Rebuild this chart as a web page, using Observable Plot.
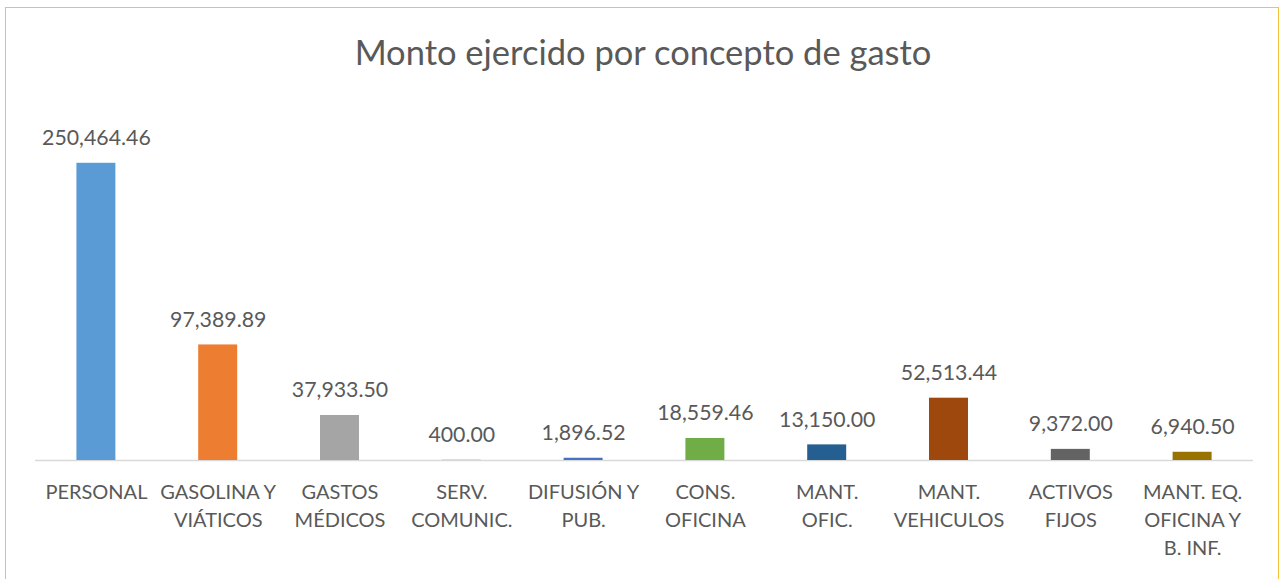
<!DOCTYPE html>
<html>
<head>
<meta charset="utf-8">
<script src="https://cdn.jsdelivr.net/npm/d3@7"></script>
<script src="https://cdn.jsdelivr.net/npm/@observablehq/plot@0.6"></script>
<style>
  html, body { margin: 0; padding: 0; background: #fff; }
  #wrap { position: relative; width: 1286px; height: 579px; overflow: hidden; font-family: Lato, "Open Sans", sans-serif; }
  #frame { position: absolute; left: 5px; top: 7px; width: 1274px; height: 600px; border: 1.5px solid #F6C33B; box-sizing: border-box; }
  #title { position: absolute; left: 0; top: 29px; width: 1286px; text-align: center; font-size: 34.5px; color: #595959; line-height: 46px; }
  #chart { position: absolute; left: 0; top: 0; }
</style>
</head>
<body>
<div id="wrap">
  <div id="frame"></div>
  <div id="chart"></div>
  <div id="title">Monto ejercido por concepto de gasto</div>
</div>
<script>
const categories = ["PERSONAL", "GASOLINA Y\nVIÁTICOS", "GASTOS\nMÉDICOS", "SERV.\nCOMUNIC.", "DIFUSIÓN Y\nPUB.", "CONS.\nOFICINA", "MANT.\nOFIC.", "MANT.\nVEHICULOS", "ACTIVOS\nFIJOS", "MANT. EQ.\nOFICINA Y\nB. INF."];
const values = [250464.46, 97389.89, 37933.50, 400.00, 1896.52, 18559.46, 13150.00, 52513.44, 9372.00, 6940.50];
const palette = ["#5B9BD5", "#ED7D31", "#A5A5A5", "#FFC000", "#4472C4", "#70AD47", "#255E91", "#9E480E", "#636363", "#997300"];

const data = categories.map((c, i) => ({cat: c, value: values[i], color: palette[i]}));
const fmt = d3.format(",.2f");

const chart = Plot.plot({
  width: 1286,
  height: 579,
  marginLeft: 35,
  marginRight: 33,
  marginTop: 104,
  marginBottom: 119,
  style: {fontFamily: "Lato, 'Open Sans', sans-serif", background: "transparent", overflow: "visible"},
  x: {domain: categories, paddingInner: 0.68, paddingOuter: 0.34, round: false, label: null},
  y: {domain: [0, 300000], axis: null},
  marks: [
    Plot.ruleY([0], {stroke: "#D9D9D9", strokeWidth: 1.5}),
    Plot.barY(data, {x: "cat", y: "value", fill: "color"}),
    Plot.text(data, {x: "cat", y: "value", text: d => fmt(d.value), dy: -25, fontSize: 21.3, fill: "#595959"}),
    Plot.axisX({tickSize: 0, tickPadding: 19, fontSize: 20, lineHeight: 1.4, color: "#595959", label: null})
  ]
});
document.getElementById("chart").appendChild(chart);
</script>
</body>
</html>
